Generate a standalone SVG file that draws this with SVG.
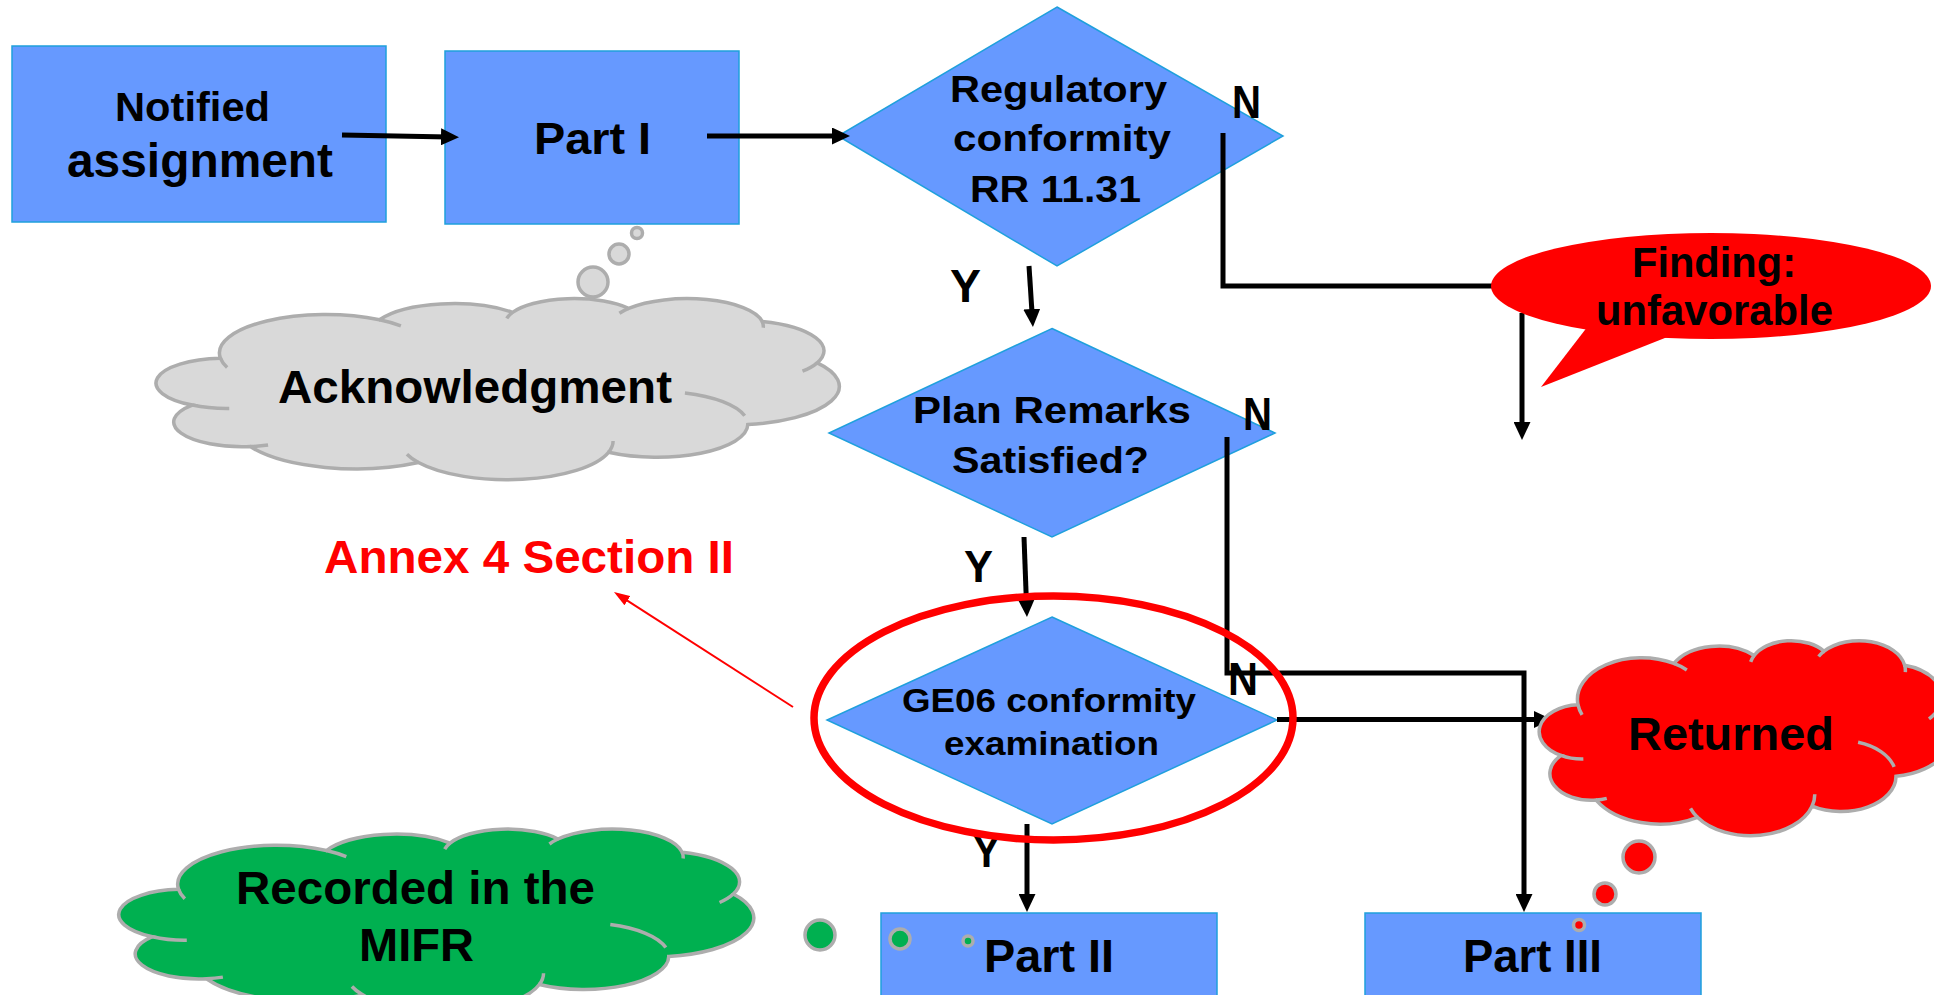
<svg xmlns="http://www.w3.org/2000/svg" width="1934" height="995" viewBox="0 0 1934 995">
<style>
.box{fill:#6699FF;stroke:#1FA0DC;stroke-width:1.5}
.t{font-family:"Liberation Sans",Arial,Helvetica,sans-serif;font-weight:bold;fill:#000}
.tr{font-family:"Liberation Sans",Arial,Helvetica,sans-serif;font-weight:bold;fill:#FF0000}
.ln{fill:none;stroke:#000;stroke-width:5}
.arr{marker-end:url(#ah)}
.gray{fill:#D9D9D9;stroke:#ADADAD;stroke-width:3.5}
.grn{fill:#00B050;stroke:#ADADAD;stroke-width:3.5}
.rc{fill:#FF0000;stroke:#ADADAD;stroke-width:3.5}
.inn{fill:none;stroke:#ADADAD;stroke-width:3.5}
</style>
<defs>
<marker id="ah" viewBox="0 0 18 17" refX="8" refY="8.5" markerWidth="18" markerHeight="17" markerUnits="userSpaceOnUse" orient="auto"><path d="M0,0 L18,8.5 L0,17 Z" fill="#000"/></marker>
<marker id="ahr" viewBox="0 0 16 11" refX="8" refY="5.5" markerWidth="16" markerHeight="11" markerUnits="userSpaceOnUse" orient="auto"><path d="M0,0 L16,5.5 L0,11 Z" fill="#FF0000"/></marker>
<path id="cloud" vector-effect="non-scaling-stroke" d="M9.03 33.26 A15.63 21.27 0 0 1 32.42 12.04 A12.34 16.82 0 0 1 51.99 7.95 A10.10 13.76 0 0 1 69.06 5.75 A11.24 15.27 0 0 1 88.70 12.92 A12.34 16.84 0 0 1 96.80 35.80 A15.68 21.34 0 0 1 86.59 69.93 A13.39 18.21 0 0 1 66.11 85.23 A15.63 21.33 0 0 1 38.15 90.90 A17.87 24.41 0 0 1 13.43 82.11 A10.09 13.70 0 0 1 4.89 59.14 A10.06 13.76 0 0 1 9.03 33.26 Z"/>
<path id="cloudIn" vector-effect="non-scaling-stroke" d="M32.42 12.04 A15.63 21.27 0 0 1 35.57 15.36 M51.14 11.23 A10.10 13.76 0 0 1 51.99 7.95 M67.71 8.46 A11.24 15.27 0 0 1 69.06 5.75 M88.70 12.92 A11.24 15.27 0 0 1 88.86 16.42 M96.80 35.80 A12.34 16.84 0 0 1 94.63 40.43 M77.34 52.46 A13.39 18.21 0 0 1 86.13 65.07 M66.78 79.05 A15.63 21.33 0 0 1 66.11 85.23 M38.15 90.90 A15.63 21.33 0 0 1 36.46 86.34 M16.04 81.21 A10.09 13.70 0 0 1 13.43 82.11 M10.33 61.02 A10.06 13.76 0 0 1 4.89 59.14 M10.02 38.37 A15.63 21.27 0 0 1 9.03 33.26"/>
</defs>

<g id="n-notified">
<rect class="box" x="12" y="46" width="374" height="176"/>
<text class="t" x="115" y="121" font-size="40" textLength="155" lengthAdjust="spacingAndGlyphs">Notified</text>
<text class="t" x="67" y="177" font-size="48" textLength="266" lengthAdjust="spacingAndGlyphs">assignment</text>
</g>
<g id="n-part1">
<rect class="box" x="445" y="51" width="294" height="173"/>
<text class="t" x="534" y="154" font-size="45" textLength="117" lengthAdjust="spacingAndGlyphs">Part I</text>
</g>
<g id="n-regulatory">
<polygon class="box" points="1057,7 1283,136 1057,266 838,136"/>
<text class="t" x="950" y="102" font-size="36" textLength="217" lengthAdjust="spacingAndGlyphs">Regulatory</text>
<text class="t" x="953" y="151" font-size="36" textLength="218" lengthAdjust="spacingAndGlyphs">conformity</text>
<text class="t" x="970" y="202" font-size="37" textLength="171" lengthAdjust="spacingAndGlyphs">RR 11.31</text>
</g>
<g id="n-plan">
<polygon class="box" points="1052,328.5 1275,433 1052,537 829,433"/>
<text class="t" x="913" y="423" font-size="37" textLength="278" lengthAdjust="spacingAndGlyphs">Plan Remarks</text>
<text class="t" x="952" y="473" font-size="37" textLength="197" lengthAdjust="spacingAndGlyphs">Satisfied?</text>
</g>
<g id="n-ge06">
<polygon class="box" points="1052,617 1277,720 1052,824 827,720"/>
<text class="t" x="902" y="712" font-size="34" textLength="294" lengthAdjust="spacingAndGlyphs">GE06 conformity</text>
<text class="t" x="944" y="755" font-size="34" textLength="215" lengthAdjust="spacingAndGlyphs">examination</text>
</g>
<g id="n-part2">
<rect class="box" x="881" y="913" width="336" height="100"/>
<text class="t" x="984" y="972" font-size="46" textLength="130" lengthAdjust="spacingAndGlyphs">Part II</text>
</g>
<g id="n-part3">
<rect class="box" x="1365" y="913" width="336" height="100"/>
<text class="t" x="1463" y="972" font-size="46" textLength="139" lengthAdjust="spacingAndGlyphs">Part III</text>
</g>

<g id="n-ack">
<use href="#cloud" class="gray" transform="translate(159,298) scale(6.8,1.81)"/>
<use href="#cloudIn" class="inn" transform="translate(159,298) scale(6.8,1.81)"/>
<circle class="gray" cx="593" cy="282" r="15" stroke-width="3"/>
<circle class="gray" cx="619" cy="254" r="10" stroke-width="3"/>
<circle class="gray" cx="637" cy="233" r="5.5" stroke-width="2.5"/>
<text class="t" x="278" y="403" font-size="46" textLength="394" lengthAdjust="spacingAndGlyphs">Acknowledgment</text>
</g>

<g id="n-mifr">
<use href="#cloud" class="grn" transform="translate(121.5,828.5) scale(6.32,1.83)"/>
<use href="#cloudIn" class="inn" transform="translate(121.5,828.5) scale(6.32,1.83)"/>
<circle class="grn" cx="820" cy="935" r="15" stroke-width="3"/>
<circle class="grn" cx="900" cy="939" r="10" stroke-width="3"/>
<circle class="grn" cx="968" cy="941" r="5" stroke-width="2.5"/>
<text class="t" x="236" y="904" font-size="46" textLength="359" lengthAdjust="spacingAndGlyphs">Recorded in the</text>
<text class="t" x="359" y="961" font-size="46" textLength="115" lengthAdjust="spacingAndGlyphs">MIFR</text>
</g>

<g id="connectors">
<path class="ln arr" d="M342,135 L449,137"/>
<path class="ln arr" d="M707,136 L840,136"/>
<path class="ln arr" d="M1029,266 L1032.3,317"/>
<path class="ln" d="M1223,133 V286 H1492"/>
<path class="ln arr" d="M1522,313 V430"/>
<path class="ln arr" d="M1024,537 L1026.6,607"/>
<path class="ln arr" d="M1227,437 V673 H1524 V902"/>
<path class="ln arr" d="M1277,719.5 H1542"/>
<path class="ln arr" d="M1027,824 V902"/>
<path fill="none" stroke="#FF0000" stroke-width="2" marker-end="url(#ahr)" d="M793,707 L620.7,596.3"/>
</g>

<g id="n-finding">
<ellipse cx="1711" cy="286" rx="220" ry="53" fill="#FF0000"/>
<polygon points="1588,326 1675,334 1541,387" fill="#FF0000"/>
<text class="t" x="1632" y="277" font-size="42" textLength="164" lengthAdjust="spacingAndGlyphs">Finding:</text>
<text class="t" x="1596" y="325" font-size="42" textLength="237" lengthAdjust="spacingAndGlyphs">unfavorable</text>
</g>

<g id="n-returned">
<use href="#cloud" class="rc" transform="translate(1541,640) scale(4.1,1.95)"/>
<use href="#cloudIn" class="inn" transform="translate(1541,640) scale(4.1,1.95)"/>
<circle class="rc" cx="1639" cy="857" r="16" stroke-width="3"/>
<circle class="rc" cx="1605" cy="894" r="11" stroke-width="3"/>
<circle class="rc" cx="1579" cy="925" r="5.5" stroke-width="2.5"/>
<text class="t" x="1628" y="750" font-size="47" textLength="206" lengthAdjust="spacingAndGlyphs">Returned</text>
</g>

<g id="labels">
<text class="t" x="1232" y="118" font-size="46" textLength="29" lengthAdjust="spacingAndGlyphs">N</text>
<text class="t" x="950" y="302" font-size="47" textLength="31" lengthAdjust="spacingAndGlyphs">Y</text>
<text class="t" x="1243" y="430" font-size="46" textLength="29" lengthAdjust="spacingAndGlyphs">N</text>
<text class="t" x="964" y="582" font-size="45" textLength="29" lengthAdjust="spacingAndGlyphs">Y</text>
<text class="t" x="1228" y="695" font-size="46" textLength="30" lengthAdjust="spacingAndGlyphs">N</text>
<text class="t" x="973" y="867" font-size="44" textLength="27" lengthAdjust="spacingAndGlyphs">Y</text>
</g>

<g id="n-highlight">
<ellipse cx="1053.5" cy="718" rx="239.5" ry="122" fill="none" stroke="#FF0000" stroke-width="7.5"/>
</g>
<g id="n-annex">
<text class="tr" x="324" y="573" font-size="46" textLength="410" lengthAdjust="spacingAndGlyphs">Annex 4 Section II</text>
</g>
</svg>
